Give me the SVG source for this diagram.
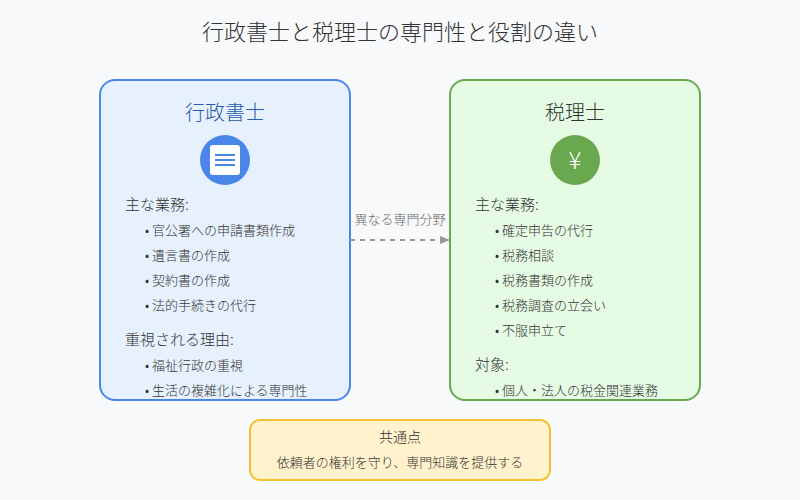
<svg xmlns="http://www.w3.org/2000/svg" width="800" height="500" viewBox="0 0 800 500">
<style>
text{font-family:"Noto Sans CJK JP","Noto Sans",sans-serif;fill:#333;font-weight:300}
.h{font-size:15px}.i{font-size:13px}
</style>
<defs><marker id="a" markerUnits="userSpaceOnUse" markerWidth="10" markerHeight="8" refX="9" refY="4" orient="auto"><path d="M0,0L10,4L0,8z" fill="#999"/></marker></defs>
<rect width="800" height="500" fill="#f8f9fb"/>
<text x="400" y="40" text-anchor="middle" font-size="22">行政書士と税理士の専門性と役割の違い</text>
<g id="gyosei">
<rect x="100" y="80" width="250" height="320" rx="15" fill="#e6f1fd" stroke="#4a86e8" stroke-width="2"/>
<text x="225" y="120" text-anchor="middle" font-size="20" style="fill:#2a5aa8">行政書士</text>
<circle cx="225" cy="160" r="25" fill="#4a86e8"/>
<rect x="210" y="145" width="30" height="30" rx="3" fill="#fff"/>
<path d="M215,155h20M215,160h20M215,165h20" stroke="#4a86e8" stroke-width="2"/>
<text x="125" y="210" class="h">主な業務:</text>
<g class="i"><text x="145" y="235">• 官公署への申請書類作成</text><text x="145" y="260">• 遺言書の作成</text><text x="145" y="285">• 契約書の作成</text><text x="145" y="310">• 法的手続きの代行</text></g>
<text x="125" y="345" class="h">重視される理由:</text>
<g class="i"><text x="145" y="370">• 福祉行政の重視</text><text x="145" y="395">• 生活の複雑化による専門性</text></g>
</g>
<g id="zeiri">
<rect x="450" y="80" width="250" height="320" rx="15" fill="#e6fbe4" stroke="#6aa84f" stroke-width="2"/>
<text x="575" y="120" text-anchor="middle" font-size="20">税理士</text>
<circle cx="575" cy="160" r="25" fill="#6aa84f"/>
<text x="575" y="169" text-anchor="middle" font-size="24" style="fill:#fff">¥</text>
<text x="475" y="210" class="h">主な業務:</text>
<g class="i"><text x="495" y="235">• 確定申告の代行</text><text x="495" y="260">• 税務相談</text><text x="495" y="285">• 税務書類の作成</text><text x="495" y="310">• 税務調査の立会い</text><text x="495" y="335">• 不服申立て</text></g>
<text x="475" y="370" class="h">対象:</text>
<text x="495" y="395" class="i">• 個人・法人の税金関連業務</text>
</g>
<g id="common">
<rect x="250" y="420" width="300" height="60" rx="10" fill="#fff2cc" stroke="#f1c232" stroke-width="2"/>
<text x="400" y="442" text-anchor="middle" font-size="14">共通点</text>
<text x="400" y="467" text-anchor="middle" class="i">依頼者の権利を守り、専門知識を提供する</text>
</g>
<g id="connectors">
<line x1="350" y1="240" x2="449" y2="240" stroke="#999" stroke-width="2" stroke-dasharray="5,5" marker-end="url(#a)"/>
<text x="400" y="224" text-anchor="middle" font-size="13" style="fill:#666">異なる専門分野</text>
</g>
</svg>
